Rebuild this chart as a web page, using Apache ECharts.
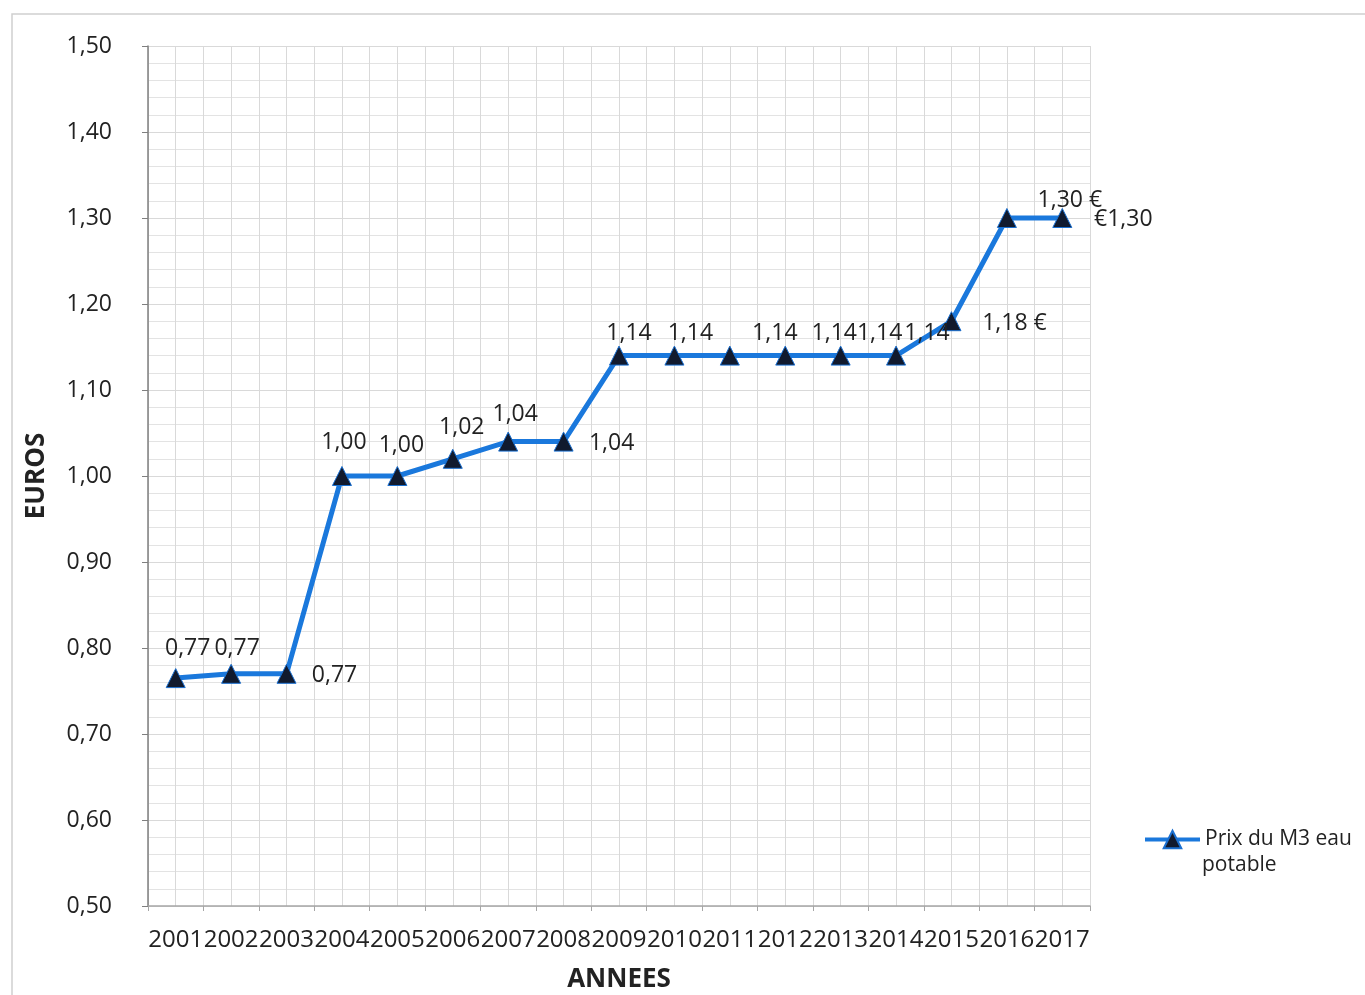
<!DOCTYPE html>
<html>
<head>
<meta charset="utf-8">
<script src="https://cdn.jsdelivr.net/npm/echarts@6/dist/echarts.min.js"></script>
<style>
html,body{margin:0;padding:0;background:#fff;}
#chart{width:1365px;height:995px;}
</style>
</head>
<body>
<div id="chart"></div>
<script>
// ---- data ----
var years = ['2001','2002','2003','2004','2005','2006','2007','2008','2009','2010','2011','2012','2013','2014','2015','2016','2017'];
var prices = [0.765,0.77,0.77,1.00,1.00,1.02,1.04,1.04,1.14,1.14,1.14,1.14,1.14,1.14,1.18,1.30,1.30];
var labelTexts = ['0,77','0,77','0,77','1,00','1,00','1,02','1,04','1,04','1,14','1,14','1,14','1,14','1,14','1,14','1,18 €','1,30 €','€1,30'];
var seriesName = 'Prix du M3 eau potable';
var legendLines = ['Prix du M3 eau', 'potable'];
var yMin = 0.5, yMax = 1.5, yStep = 0.1;

// ---- label placement (layout) ----
var labelOffsets = [[12,-30],[6,-25],[48,2],[2,-34],[4,-31],[9,-31],[7,-27],[48,2],[10,-22],[16,-22],[45,-22],[49,-22],[39,-22],[31,-22],[63,2],[63,-18],[61,1]];

var FONT = '"Open Sans", "Noto Sans", sans-serif';
var chart = echarts.init(document.getElementById('chart'), null, {renderer:'canvas'});

var dataItems = prices.map(function(v,i){
  return {
    value: v,
    label: { formatter: labelTexts[i], offset: labelOffsets[i] }
  };
});

chart.setOption({
  backgroundColor: '#fff',
  animation: false,
  graphic: [{
    type: 'rect', shape: {x: 12, y: 14, width: 1400, height: 1000},
    style: {fill: 'none', stroke: '#d0d0d0', lineWidth: 1.5}, z: -10
  },{
    type: 'text', left: 1202, top: 855,
    style: {text: legendLines[1], font: '21px ' + FONT, fill: '#222'}
  }],
  grid: {left: 148, right: 275, top: 46, bottom: 89, containLabel: false, outerBoundsMode: 'none'},
  legend: {
    left: 1138, top: 824,
    itemWidth: 55, itemHeight: 22,
    itemGap: 4,
    data: [seriesName],
    formatter: function(){ return legendLines[0]; },
    lineStyle: {width: 4},
    textStyle: {fontFamily: FONT, fontSize: 21, color: '#222'}
  },
  xAxis: [{
    type: 'category',
    data: years,
    boundaryGap: true,
    name: 'ANNEES',
    nameLocation: 'middle',
    nameGap: 61,
    nameTextStyle: {fontFamily: FONT, fontSize: 26, fontWeight: 'bold', color: '#222'},
    axisLine: {show: true, lineStyle: {color: '#a6a6a6', width: 1.5}},
    axisTick: {show: true, length: 5, lineStyle: {color: '#a6a6a6'}},
    axisLabel: {fontFamily: FONT, fontSize: 24, color: '#222', margin: 22, interval: 0},
    splitLine: {show: false}
  },{
    type: 'value', min: 0, max: 17, interval: 0.5,
    position: 'bottom',
    axisLine: {show: false}, axisTick: {show: false}, axisLabel: {show: false},
    splitLine: {show: true, lineStyle: {color: '#d9d9d9', width: 1}}
  }],
  yAxis: {
    type: 'value',
    min: yMin, max: yMax, interval: yStep,
    name: 'EUROS',
    nameLocation: 'middle',
    nameGap: 98,
    nameRotate: 90,
    nameTextStyle: {fontFamily: FONT, fontSize: 26, fontWeight: 'bold', color: '#222'},
    axisLine: {show: true, lineStyle: {color: '#7f7f7f', width: 1.5}},
    axisTick: {show: true, length: 6, lineStyle: {color: '#7f7f7f'}},
    axisLabel: {
      fontFamily: FONT, fontSize: 23, color: '#222', margin: 36,
      formatter: function(v){ return v.toFixed(2).replace('.', ','); }
    },
    splitLine: {show: true, lineStyle: {color: '#d9d9d9', width: 1}},
    minorTick: {show: false, splitNumber: 5},
    minorSplitLine: {show: true, lineStyle: {color: '#e3e3e3', width: 1}}
  },
  series: [{
    name: seriesName,
    type: 'line',
    xAxisIndex: 0,
    data: dataItems,
    symbol: 'triangle',
    symbolSize: 19,
    itemStyle: {color: '#111a2e', borderColor: '#1a6fd0', borderWidth: 1},
    lineStyle: {color: '#1a78dc', width: 5},
    label: {
      show: true, position: 'inside',
      fontFamily: FONT, fontSize: 23, color: '#222'
    },
    z: 5
  }]
});
</script>
</body>
</html>
